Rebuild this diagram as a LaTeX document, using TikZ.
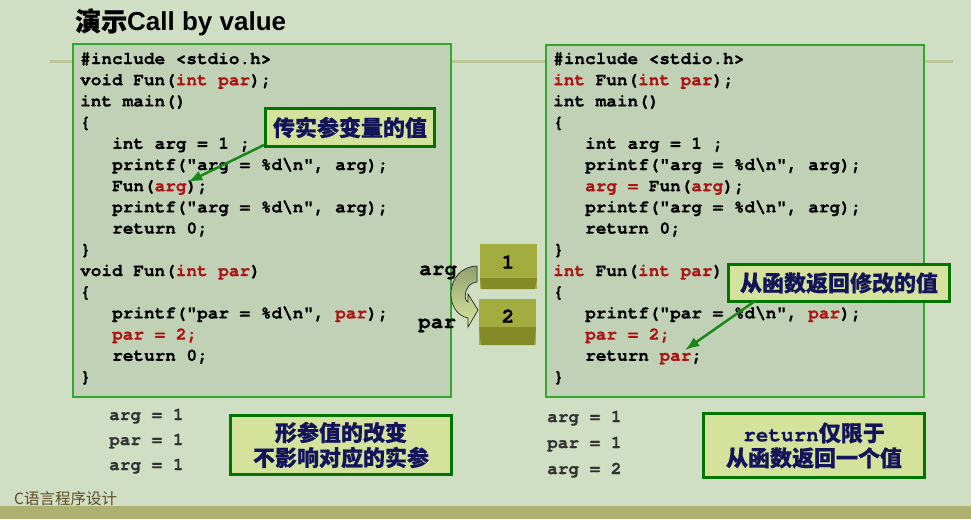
\documentclass[tikz,border=0pt]{standalone}
\usepackage{fontspec}
\usepackage{xcolor}
\setmainfont{Liberation Sans}
\newfontfamily\codefont{texgyrecursor}[Extension=.otf,UprightFont=*-regular,BoldFont=*-bold,BoldFeatures={FakeBold=0.8}]
\newfontfamily\cjk{Noto Sans CJK SC}[BoldFeatures={FakeBold=0.6}]
\usepackage{tikz}
\usetikzlibrary{arrows.meta}
\definecolor{BgSage}{RGB}{208,222,195}
\definecolor{CodeFill}{RGB}{193,209,181}
\definecolor{CodeEdge}{RGB}{50,165,50}
\definecolor{CodeRed}{RGB}{170,20,20}
\definecolor{NoteFill}{RGB}{212,226,156}
\definecolor{NoteEdge}{RGB}{0,115,0}
\definecolor{NoteNavy}{RGB}{20,20,90}
\definecolor{ArrowGreen}{RGB}{25,135,25}
\definecolor{OliveTop}{RGB}{163,172,62}
\definecolor{OliveDark}{RGB}{132,138,40}
\definecolor{BarOlive}{RGB}{172,176,112}
\definecolor{RuleOlive}{RGB}{188,198,152}
\definecolor{FooterBrown}{RGB}{95,75,40}
\definecolor{TurnDark}{RGB}{145,160,110}
\definecolor{TurnLight}{RGB}{218,231,160}
\newcommand{\redc}[1]{\textcolor{CodeRed}{#1}}

\begin{document}
\begin{tikzpicture}[x=1pt,y=-1pt,>=Latex,
  code/.style={anchor=base west,inner sep=0pt,
    font=\codefont\bfseries\fontsize{17.7}{21}\selectfont},
  output/.style={code,text=black!80},
  codebox/.style={draw=CodeEdge,line width=2pt,fill=CodeFill,
    anchor=north west,inner sep=0pt},
  note/.style={draw=NoteEdge,line width=3pt,fill=NoteFill,text=NoteNavy,
    anchor=north west,align=center,inner sep=0pt,
    font=\cjk\bfseries\fontsize{22}{25}\selectfont},
  callout/.style={->,ArrowGreen,line width=2.5pt},
  olive/.style={fill=OliveTop,anchor=north west,inner sep=0pt,
    minimum width=57pt,font=\codefont\bfseries\fontsize{21}{21}\selectfont},
  tag/.style={anchor=base west,inner sep=0pt,
    font=\codefont\bfseries\fontsize{21}{21}\selectfont}]
  \useasboundingbox (0,0) rectangle (971,519);
  \fill[BgSage] (0,0) rectangle (971,519);
  \fill[BarOlive] (0,506) rectangle (971,519);
  \draw[RuleOlive,line width=3pt] (50,62) -- (953,62);

  \node[anchor=base west,inner sep=0pt,font=\bfseries\fontsize{26}{26}\selectfont]
    (title) at (75,31) {{\cjk 演示}Call by value};
  \node[anchor=base west,inner sep=0pt,text=FooterBrown,font=\cjk\fontsize{15.5}{16}\selectfont]
    (footer) at (14,504) {C语言程序设计};

  % Call by value
  \node[codebox,minimum width=378pt,minimum height=353pt] (boxL) at (72,43) {};
  \node[code] (L0) at (80,64) {\#include <stdio.h>};
  \node[code] (L1) at (80,85.2) {void Fun(\redc{int par});};
  \node[code] (L2) at (80,106.4) {int main()};
  \node[code] (L3) at (80,127.6) {\{};
  \node[code] (L4) at (112,148.8) {int arg = 1 ;};
  \node[code] (L5) at (112,170) {printf("arg = \%d\textbackslash n", arg);};
  \node[code] (L6) at (112,191.2) {Fun(\redc{arg});};
  \node[code] (L7) at (112,212.4) {printf("arg = \%d\textbackslash n", arg);};
  \node[code] (L8) at (112,233.6) {return 0;};
  \node[code] (L9) at (80,254.8) {\}};
  \node[code] (L10) at (80,276) {void Fun(\redc{int par})};
  \node[code] (L11) at (80,297.2) {\{};
  \node[code] (L12) at (112,318.4) {printf("par = \%d\textbackslash n", \redc{par});};
  \node[code] (L13) at (112,339.6) {\redc{par = 2;}};
  \node[code] (L14) at (112,360.8) {return 0;};
  \node[code] (L15) at (80,382) {\}};

  % Return the new value
  \node[codebox,minimum width=378pt,minimum height=352pt] (boxR) at (545,44) {};
  \node[code] (R0) at (553,64) {\#include <stdio.h>};
  \node[code] (R1) at (553,85.2) {\redc{int} Fun(\redc{int par});};
  \node[code] (R2) at (553,106.4) {int main()};
  \node[code] (R3) at (553,127.6) {\{};
  \node[code] (R4) at (585,148.8) {int arg = 1 ;};
  \node[code] (R5) at (585,170) {printf("arg = \%d\textbackslash n", arg);};
  \node[code] (R6) at (585,191.2) {\redc{arg =} Fun(\redc{arg});};
  \node[code] (R7) at (585,212.4) {printf("arg = \%d\textbackslash n", arg);};
  \node[code] (R8) at (585,233.6) {return 0;};
  \node[code] (R9) at (553,254.8) {\}};
  \node[code] (R10) at (553,276) {\redc{int} Fun(\redc{int par})};
  \node[code] (R11) at (553,297.2) {\{};
  \node[code] (R12) at (585,318.4) {printf("par = \%d\textbackslash n", \redc{par});};
  \node[code] (R13) at (585,339.6) {\redc{par = 2;}};
  \node[code] (R14) at (585,360.8) {return \redc{par};};
  \node[code] (R15) at (553,382) {\}};

  % program output
  \node[output] (outL1) at (109,420) {arg = 1};
  \node[output] (outL2) at (109,445) {par = 1};
  \node[output] (outL3) at (109,470) {arg = 1};
  \node[output] (outR1) at (547,422) {arg = 1};
  \node[output] (outR2) at (547,448) {par = 1};
  \node[output] (outR3) at (547,474) {arg = 2};

  % memory cells
  \node[olive,minimum height=45pt] (cellA) at (480,244) {};
  \fill[OliveDark] (480,278) -- (537,278) -- (535,289) -- (482,289) -- cycle;
  \node (valA) at (508,262) [inner sep=0pt,font=\codefont\bfseries\fontsize{21}{21}\selectfont] {1};
  \node[olive,minimum height=46pt] (cellB) at (479,299) {};
  \fill[OliveDark] (479,327) -- (536,327) -- (534,345) -- (481,345) -- cycle;
  \node (valB) at (508,316) [inner sep=0pt,font=\codefont\bfseries\fontsize{21}{21}\selectfont] {2};
  \node[tag] (tagA) at (419,275) {arg};
  \node[tag] (tagB) at (418,328) {par};
  \draw[black!85,line width=0.7pt,top color=TurnDark,bottom color=TurnLight]
    (477,266) .. controls (445,267) and (443,313) .. (468,318) -- (468,327) -- (478,310)
    -- (468,294) -- (468,302) .. controls (463,301) and (464,283) .. (477,282) -- cycle;

  % callouts
  \node[note,minimum width=169pt,minimum height=38pt] (note1) at (264,107) {传实参变量的值};
  \coordinate (argtip) at (188,182);
  \draw[callout] ([yshift=3pt]note1.south west) -- (argtip);
  \node[note,minimum width=221pt,minimum height=37pt] (note2) at (727,263) {从函数返回修改的值};
  \coordinate (partip) at (685,350);
  \draw[callout] ([xshift=28pt,yshift=2pt]note2.south west) -- (partip);
  \node[note,minimum width=221pt,minimum height=59pt] (note3) at (229,414)
    {形参值的改变\\不影响对应的实参};
  \node[note,minimum width=221pt,minimum height=64pt] (note4) at (702,412)
    {{\codefont\bfseries\fontsize{21}{21}\selectfont return}仅限于\\从函数返回一个值};
\end{tikzpicture}
\end{document}
